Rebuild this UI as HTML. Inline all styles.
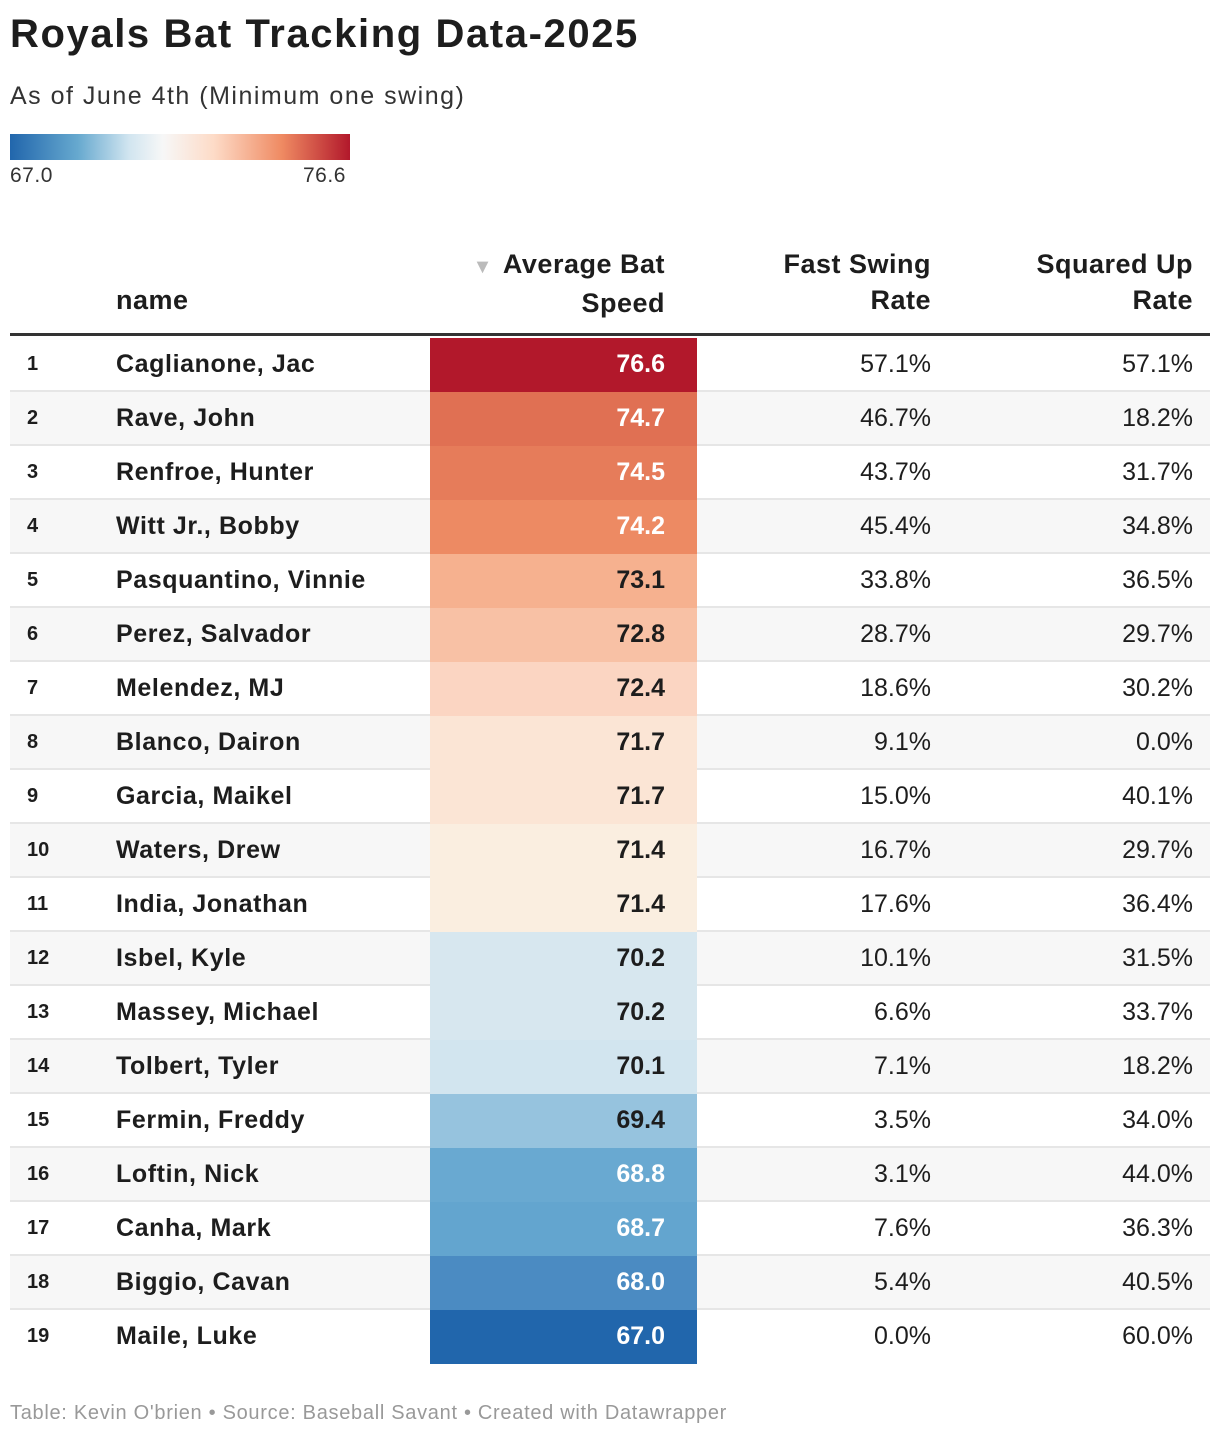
<!DOCTYPE html>
<html><head><meta charset="utf-8">
<style>
body{margin:0;background:#fff;font-family:"Liberation Sans",sans-serif;color:#1d1d1d;}
#root{position:relative;width:1220px;height:1438px;overflow:hidden;}
.abs{position:absolute;white-space:nowrap;}
.title{left:10px;top:12px;font-size:40px;font-weight:bold;letter-spacing:1.6px;}
.sub{left:10px;top:82px;font-size:25px;color:#333;letter-spacing:1.5px;}
.leg{left:10px;top:134px;width:340px;height:26px;background:linear-gradient(90deg,#2166ac 0%,#67a9cf 20%,#d1e5f0 35%,#f7f7f7 45%,#fddbc7 60%,#ef8a62 80%,#b2182b 100%);}
.legl{top:164px;font-size:21px;color:#333;letter-spacing:0.5px;}
.hd{font-size:27px;font-weight:bold;line-height:36px;text-align:right;letter-spacing:0.5px;}
.row{position:absolute;left:10px;width:1200px;height:54px;border-bottom:2px solid #e6e6e6;box-sizing:border-box;}
.cell{position:absolute;top:0;height:52px;line-height:52px;font-size:25px;white-space:nowrap;}
</style></head><body>
<div id="root">
<div class="abs title">Royals Bat Tracking Data-2025</div>
<div class="abs sub">As of June 4th (Minimum one swing)</div>
<div class="abs leg"></div>
<div class="abs legl" style="left:10px">67.0</div>
<div class="abs legl" style="left:303px">76.6</div>
<div class="abs hd" style="left:116px;top:282px;text-align:left">name</div>
<div class="abs hd" style="right:555px;top:246px"><span style="color:#bbb;font-size:20px;margin-right:10px">▼</span>Average Bat<br>Speed</div>
<div class="abs hd" style="right:289px;top:246px">Fast Swing<br>Rate</div>
<div class="abs hd" style="right:27px;top:246px">Squared Up<br>Rate</div>
<div class="abs" style="left:10px;top:333px;width:1200px;height:3px;background:#333"></div>
<div id="rows"></div>
<div class="abs" style="left:10px;top:1402px;font-size:20px;color:#999;letter-spacing:0.7px">Table: Kevin O'brien • Source: Baseball Savant • Created with Datawrapper</div>
</div>
<script>
const names=["Caglianone, Jac","Rave, John","Renfroe, Hunter","Witt Jr., Bobby","Pasquantino, Vinnie","Perez, Salvador","Melendez, MJ","Blanco, Dairon","Garcia, Maikel","Waters, Drew","India, Jonathan","Isbel, Kyle","Massey, Michael","Tolbert, Tyler","Fermin, Freddy","Loftin, Nick","Canha, Mark","Biggio, Cavan","Maile, Luke"];
const batSpeed=[76.6,74.7,74.5,74.2,73.1,72.8,72.4,71.7,71.7,71.4,71.4,70.2,70.2,70.1,69.4,68.8,68.7,68.0,67.0];
const fastSwing=[57.1,46.7,43.7,45.4,33.8,28.7,18.6,9.1,15.0,16.7,17.6,10.1,6.6,7.1,3.5,3.1,7.6,5.4,0.0];
const squaredUp=[57.1,18.2,31.7,34.8,36.5,29.7,30.2,0.0,40.1,29.7,36.4,31.5,33.7,18.2,34.0,44.0,36.3,40.5,60.0];
const stopV=[67.0,68.0,68.75,69.4,70.15,71.4,71.7,72.4,72.8,73.1,74.2,74.5,74.7,76.6];
const stopC=["#2166ac","#4b8bc2","#65a7d0","#96c3de","#d6e7f0","#faeee0","#fbe5d5","#fbd5c2","#f8c1a5","#f6b18f","#ed8a63","#e67c5a","#e07053","#b2182b"];
function hex(c){return [1,3,5].map(i=>parseInt(c.substr(i,2),16));}
function color(v){
  if(v<=stopV[0])return stopC[0];
  for(let i=1;i<stopV.length;i++){if(v<=stopV[i]){const t=(v-stopV[i-1])/(stopV[i]-stopV[i-1]);const a=hex(stopC[i-1]),b=hex(stopC[i]);return "rgb("+a.map((x,k)=>Math.round(x+(b[k]-x)*t)).join(",")+")";}}
  return stopC[stopC.length-1];
}
const rowsEl=document.getElementById('rows');
const top0=338,rh=54;
names.forEach((n,i)=>{
  const r=document.createElement('div');
  r.className='row';
  
  
  r.style.top=(top0+i*rh)+'px';
  if(i%2==1)r.style.background='#f7f7f7';
  if(i==names.length-1)r.style.borderBottom='none';
  const v=batSpeed[i];
  const light=(v>=69.2&&v<=73.5);
  const rank=document.createElement('div');rank.className='cell';rank.style.left='17px';rank.style.fontSize='20px';rank.style.fontWeight='bold';rank.textContent=(i+1);
  
  
  const nm=document.createElement('div');nm.className='cell';nm.style.left='106px';nm.style.fontWeight='bold';nm.style.letterSpacing='0.6px';nm.textContent=n;
  
  
  const bs=document.createElement('div');bs.className='cell';bs.style.left='420px';bs.style.width='267px';bs.style.height='54px';bs.style.background=color(v);
  
  
  bs.innerHTML='<span style="position:absolute;right:32px;font-weight:bold;color:'+(light?'#1d1d1d':'#fff')+'">'+v.toFixed(1)+'</span>';
  const fs=document.createElement('div');fs.className='cell';fs.style.right='279px';fs.textContent=fastSwing[i].toFixed(1)+'%';
  
  
  const sq=document.createElement('div');sq.className='cell';sq.style.right='17px';sq.textContent=squaredUp[i].toFixed(1)+'%';
  
  
  [rank,nm,bs,fs,sq].forEach(e=>r.appendChild(e));
  rowsEl.appendChild(r);
});
</script>
</body></html>
